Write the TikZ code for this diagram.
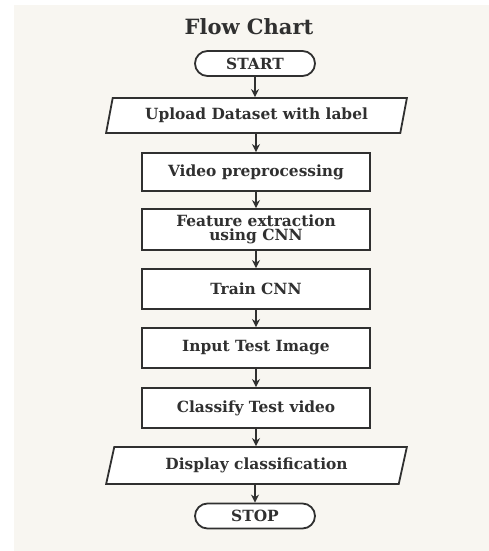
\documentclass[tikz,border=0pt]{standalone}
\usepackage{fontspec}
\setmainfont{DejaVu Serif}
\usetikzlibrary{shapes.geometric,shapes.misc,arrows.meta}
\definecolor{bgcol}{HTML}{F8F6F1}
\definecolor{linecol}{HTML}{303030}
\tikzset{
  base/.style={draw=linecol, line width=1.8pt, fill=white, font=\bfseries\fontsize{15.4}{14.5}\selectfont, text=linecol, align=center, inner sep=0pt},
  procbox/.style={base, rectangle, minimum width=228pt},
  termbox/.style={base, rounded rectangle, minimum width=120pt, minimum height=25pt},
  iobox/.style={base, trapezium, trapezium left angle=71, trapezium right angle=109, trapezium stretches=true, minimum width=301pt},
  flowarrow/.style={draw=linecol, line width=1.4pt, -{Stealth[length=8pt,width=8pt]}}
}
\begin{document}
\begin{tikzpicture}[x=1pt,y=-1pt]
\useasboundingbox (0,0) rectangle (489,551);
\fill[white] (0,0) rectangle (489,551);
\fill[bgcol] (14,5) rectangle (489,551);
\node[font=\bfseries\fontsize{21}{24}\selectfont, text=linecol] (title) at (249,27) {Flow Chart};
\node[termbox] (start) at (255,63.5) {START};
\node[iobox, minimum height=35pt] (upload) at (256.5,115.5) {Upload Dataset with label};
\node[procbox, minimum height=38pt] (video) at (256,172) {Video preprocessing};
\node[procbox, minimum height=41pt] (feature) at (256,229.5) {Feature extraction\\using CNN};
\node[procbox, minimum height=40pt] (train) at (256,289) {Train CNN};
\node[procbox, minimum height=40pt] (input) at (256,348) {Input Test Image};
\node[procbox, minimum height=40pt] (classify) at (256,408) {Classify Test video};
\node[iobox, minimum height=37pt] (display) at (256.5,465.5) {Display classification};
\node[termbox] (stop) at (255,516) {STOP};
\draw[flowarrow] (start.south) -- (upload.north -| start.south);
\draw[flowarrow] (upload.south -| video.north) -- (video.north);
\draw[flowarrow] (video) -- (feature);
\draw[flowarrow] (feature) -- (train);
\draw[flowarrow] (train) -- (input);
\draw[flowarrow] (input) -- (classify);
\draw[flowarrow] (classify.south) -- (display.north -| classify.south);
\draw[flowarrow] (display.south -| stop.north) -- (stop.north);
\end{tikzpicture}
\end{document}
